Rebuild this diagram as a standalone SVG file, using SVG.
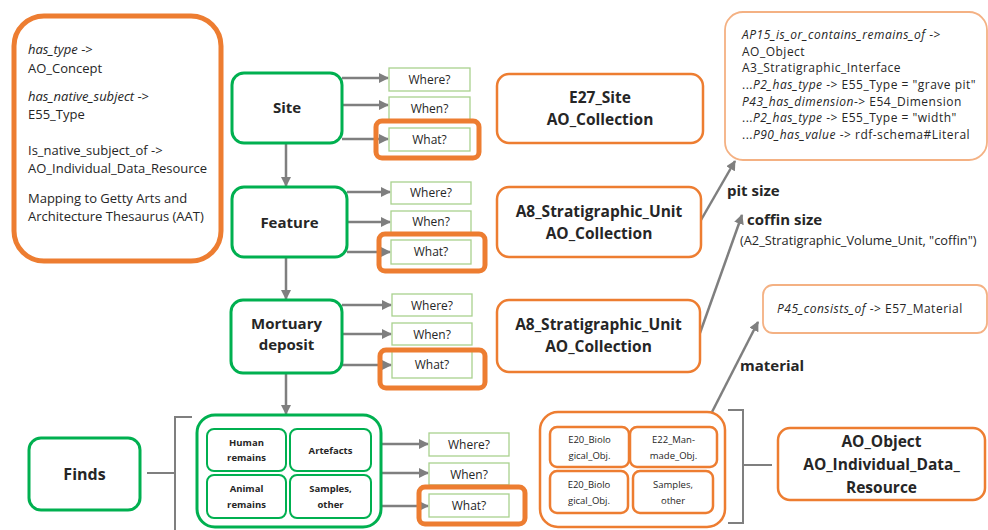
<svg xmlns="http://www.w3.org/2000/svg" width="988" height="530" viewBox="0 0 988 530">
  <style>
    text { font-family: "Open Sans", "Liberation Sans", sans-serif; fill: #262626; }
    .b { font-weight: bold; }
    .i { font-style: italic; }
    .c { text-anchor: middle; }
    .green { fill: #fff; stroke: #00B050; stroke-width: 3; }
    .greenIn { fill: #fff; stroke: #00B050; stroke-width: 2; }
    .q { fill: #fff; stroke: #A9D18E; stroke-width: 1.3; }
    .hl { fill: none; stroke: #ED7D31; stroke-width: 5; }
    .org { fill: #fff; stroke: #ED7D31; stroke-width: 2.5; }
    .orgThin { fill: #fff; stroke: #F4B183; stroke-width: 1.8; }
    .conn { fill: none; stroke: #7F7F7F; stroke-width: 2.5; }
    .brk { fill: none; stroke: #7F7F7F; stroke-width: 2; }
    .q-t { font-size: 12px; text-anchor: middle; }
    .note { font-size: 13px; }
    .note2 { font-size: 12px; letter-spacing: 0.5px; }
    .cls { font-size: 15.5px; font-weight: bold; text-anchor: middle; }
    .sub { font-size: 9.5px; text-anchor: middle; }
    .lbl { font-size: 15px; font-weight: bold; }
  </style>
  <defs>
    <marker id="ah" viewBox="0 0 10 10" refX="9" refY="5" markerWidth="4" markerHeight="4" orient="auto">
      <path d="M0,0 L10,5 L0,10 z" fill="#7F7F7F"/>
    </marker>
  </defs>

  <rect width="988" height="530" fill="#fff"/>

  <!-- property notes for the vocabulary -->
  <g id="concept-note">
    <rect x="14" y="16" width="207" height="245" rx="30" class="hl"/>
    <text x="28" y="54" class="note"><tspan class="i">has_type</tspan> -&gt;</text>
    <text x="28" y="73" class="note">AO_Concept</text>
    <text x="28" y="101" class="note"><tspan class="i">has_native_subject</tspan> -&gt;</text>
    <text x="28" y="119" class="note">E55_Type</text>
    <text x="28" y="155" class="note">Is_native_subject_of -&gt;</text>
    <text x="28" y="173" class="note">AO_Individual_Data_Resource</text>
    <text x="28" y="203" class="note">Mapping to Getty Arts and</text>
    <text x="28" y="221" class="note">Architecture Thesaurus (AAT)</text>
  </g>

  <!-- connectors -->
  <g id="connectors">
    <!-- Site -->
    <line x1="342" y1="78" x2="388" y2="78" class="conn" marker-end="url(#ah)"/>
    <line x1="342" y1="105" x2="388" y2="105" class="conn" marker-end="url(#ah)"/>
    <line x1="342" y1="139" x2="388" y2="139" class="conn" marker-end="url(#ah)"/>
    <line x1="286" y1="143" x2="286" y2="186" class="conn" marker-end="url(#ah)"/>
    <!-- Feature -->
    <line x1="347" y1="192" x2="390" y2="192" class="conn" marker-end="url(#ah)"/>
    <line x1="347" y1="222" x2="390" y2="222" class="conn" marker-end="url(#ah)"/>
    <line x1="347" y1="252" x2="390" y2="252" class="conn" marker-end="url(#ah)"/>
    <line x1="286" y1="257" x2="286" y2="299" class="conn" marker-end="url(#ah)"/>
    <!-- Mortuary deposit -->
    <line x1="342" y1="305" x2="391" y2="305" class="conn" marker-end="url(#ah)"/>
    <line x1="342" y1="334" x2="391" y2="334" class="conn" marker-end="url(#ah)"/>
    <line x1="342" y1="365" x2="391" y2="365" class="conn" marker-end="url(#ah)"/>
    <line x1="286" y1="373" x2="286" y2="414" class="conn" marker-end="url(#ah)"/>
    <!-- Finds -->
    <line x1="381" y1="444" x2="428" y2="444" class="conn" marker-end="url(#ah)"/>
    <line x1="381" y1="473" x2="428" y2="473" class="conn" marker-end="url(#ah)"/>
    <line x1="381" y1="506" x2="428" y2="506" class="conn" marker-end="url(#ah)"/>
    <!-- brackets -->
    <path d="M192,417 H175 V530 M147,473 H175" class="brk"/>
    <path d="M728,410 H743 V523 H728 M743,465 H772" class="brk"/>
    <!-- links to the notes -->
    <line x1="701" y1="220" x2="735" y2="161" class="conn" stroke-width="2" marker-end="url(#ah)"/>
    <line x1="700" y1="333" x2="742" y2="215" class="conn" stroke-width="2" marker-end="url(#ah)"/>
    <line x1="712" y1="412" x2="758" y2="322" class="conn" stroke-width="2" marker-end="url(#ah)"/>
  </g>

  <!-- Site -->
  <g id="site">
    <rect x="232" y="73" width="110" height="70" rx="12" class="green"/>
    <text x="287" y="113" font-size="15" class="b c">Site</text>
  </g>
  <g id="site-questions">
    <rect x="389" y="68" width="81" height="23" class="q"/>
    <text x="429.5" y="84" class="q-t">Where?</text>
    <rect x="389" y="97" width="81" height="23" class="q"/>
    <text x="429.5" y="113" class="q-t">When?</text>
    <rect x="389" y="128" width="81" height="23" class="q"/>
    <text x="429.5" y="144" class="q-t">What?</text>
    <rect x="376" y="121" width="103" height="37" rx="6" class="hl"/>
  </g>

  <!-- Feature -->
  <g id="feature">
    <rect x="232" y="187" width="115" height="70" rx="12" class="green"/>
    <text x="289.5" y="228" font-size="15" class="b c">Feature</text>
  </g>
  <g id="feature-questions">
    <rect x="391" y="182" width="80" height="22" class="q"/>
    <text x="431" y="197" class="q-t">Where?</text>
    <rect x="391" y="211" width="80" height="22" class="q"/>
    <text x="431" y="226" class="q-t">When?</text>
    <rect x="391" y="240" width="80" height="24" class="q"/>
    <text x="431" y="256" class="q-t">What?</text>
    <rect x="379" y="234" width="106" height="37" rx="6" class="hl"/>
  </g>

  <!-- Mortuary deposit -->
  <g id="mortuary-deposit">
    <rect x="231" y="300" width="111" height="73" rx="12" class="green"/>
    <text x="286.5" y="329" font-size="15" class="b c">Mortuary</text>
    <text x="286.5" y="350" font-size="15" class="b c">deposit</text>
  </g>
  <g id="mortuary-questions">
    <rect x="392" y="294" width="80" height="22" class="q"/>
    <text x="432" y="310" class="q-t">Where?</text>
    <rect x="392" y="323" width="80" height="22" class="q"/>
    <text x="432" y="339" class="q-t">When?</text>
    <rect x="392" y="351" width="80" height="27" class="q"/>
    <text x="432" y="369" class="q-t">What?</text>
    <rect x="380" y="350" width="105" height="38" rx="6" class="hl"/>
  </g>

  <!-- Finds -->
  <g id="finds">
    <rect x="29" y="438" width="111" height="72" rx="12" class="green"/>
    <text x="84.5" y="480" font-size="16" class="b c">Finds</text>
  </g>
  <g id="finds-types">
    <rect x="197" y="415" width="184" height="112" rx="18" class="green" stroke-width="4"/>
    <rect x="207" y="429" width="79" height="42" rx="7" class="greenIn"/>
    <text x="246.5" y="446" class="sub b">Human</text>
    <text x="246.5" y="461" class="sub b">remains</text>
    <rect x="290" y="429" width="81" height="42" rx="7" class="greenIn"/>
    <text x="330.5" y="454" class="sub b">Artefacts</text>
    <rect x="207" y="475" width="79" height="43" rx="7" class="greenIn"/>
    <text x="246.5" y="492" class="sub b">Animal</text>
    <text x="246.5" y="508" class="sub b">remains</text>
    <rect x="290" y="475" width="81" height="43" rx="7" class="greenIn"/>
    <text x="330.5" y="492" class="sub b">Samples,</text>
    <text x="330.5" y="508" class="sub b">other</text>
  </g>
  <g id="finds-questions">
    <rect x="429" y="433" width="80" height="23" class="q"/>
    <text x="469" y="449" class="q-t">Where?</text>
    <rect x="429" y="463" width="80" height="22" class="q"/>
    <text x="469" y="479" class="q-t">When?</text>
    <rect x="429" y="494" width="80" height="23" class="q"/>
    <text x="469" y="510" class="q-t">What?</text>
    <rect x="419" y="487" width="106" height="37" rx="6" class="hl"/>
  </g>

  <!-- CIDOC / AO classes -->
  <g id="e27-site">
    <rect x="497" y="74" width="206" height="69" rx="12" class="org"/>
    <text x="600" y="103" class="cls">E27_Site</text>
    <text x="600" y="125" class="cls">AO_Collection</text>
  </g>
  <g id="a8-feature">
    <rect x="497" y="187" width="204" height="70" rx="12" class="org"/>
    <text x="599" y="217" class="cls">A8_Stratigraphic_Unit</text>
    <text x="599" y="239" class="cls">AO_Collection</text>
  </g>
  <g id="a8-mortuary">
    <rect x="497" y="300" width="203" height="72" rx="12" class="org"/>
    <text x="598.5" y="330" class="cls">A8_Stratigraphic_Unit</text>
    <text x="598.5" y="352" class="cls">AO_Collection</text>
  </g>

  <g id="finds-classes">
    <rect x="540" y="412" width="185" height="115" rx="18" class="org" stroke-width="3.5"/>
    <rect x="550" y="427" width="79" height="40" rx="7" class="org" stroke-width="2"/>
    <text x="589.5" y="443" class="sub">E20_Biolo</text>
    <text x="589.5" y="459" class="sub">gical_Obj.</text>
    <rect x="630" y="427" width="87" height="40" rx="7" class="org" stroke-width="2"/>
    <text x="673.5" y="443" class="sub">E22_Man-</text>
    <text x="673.5" y="459" class="sub">made_Obj.</text>
    <rect x="550" y="471" width="78" height="42" rx="7" class="org" stroke-width="2"/>
    <text x="589" y="488" class="sub">E20_Biolo</text>
    <text x="589" y="504" class="sub">gical_Obj.</text>
    <rect x="633" y="471" width="80" height="42" rx="7" class="org" stroke-width="2"/>
    <text x="673" y="488" class="sub">Samples,</text>
    <text x="673" y="504" class="sub">other</text>
  </g>

  <g id="ao-object">
    <rect x="778" y="428" width="207" height="72" rx="12" class="org"/>
    <text x="881.5" y="447" class="cls" font-size="16.5">AO_Object</text>
    <text x="881.5" y="470" class="cls" font-size="16.5">AO_Individual_Data_</text>
    <text x="881.5" y="493" class="cls" font-size="16.5">Resource</text>
  </g>

  <!-- notes -->
  <g id="stratigraphy-note">
    <rect x="725" y="12" width="262" height="148" rx="18" class="orgThin"/>
    <text x="742" y="39" class="note2"><tspan class="i">AP15_is_or_contains_remains_of</tspan> -&gt;</text>
    <text x="742" y="55.7" class="note2">AO_Object</text>
    <text x="742" y="72.3" class="note2">A3_Stratigraphic_Interface</text>
    <text x="742" y="89" class="note2">...<tspan class="i">P2_has_type</tspan> -&gt; E55_Type = "grave pit"</text>
    <text x="742" y="105.7" class="note2"><tspan class="i">P43_has_dimension</tspan>-&gt; E54_Dimension</text>
    <text x="742" y="122.3" class="note2">...<tspan class="i">P2_has_type</tspan> -&gt; E55_Type = "width"</text>
    <text x="742" y="139" class="note2">...<tspan class="i">P90_has_value</tspan> -&gt; rdf-schema#Literal</text>
  </g>

  <g id="material-note">
    <rect x="763" y="285" width="224" height="48" rx="10" class="orgThin"/>
    <text x="777" y="313" class="note2"><tspan class="i">P45_consists_of</tspan> -&gt; E57_Material</text>
  </g>

  <g id="link-labels">
    <text x="727" y="196" class="lbl">pit size</text>
    <text x="747" y="225" class="lbl">coffin size</text>
    <text x="740" y="245" font-size="12.8">(A2_Stratigraphic_Volume_Unit, "coffin")</text>
    <text x="740" y="371" class="lbl">material</text>
  </g>
</svg>
